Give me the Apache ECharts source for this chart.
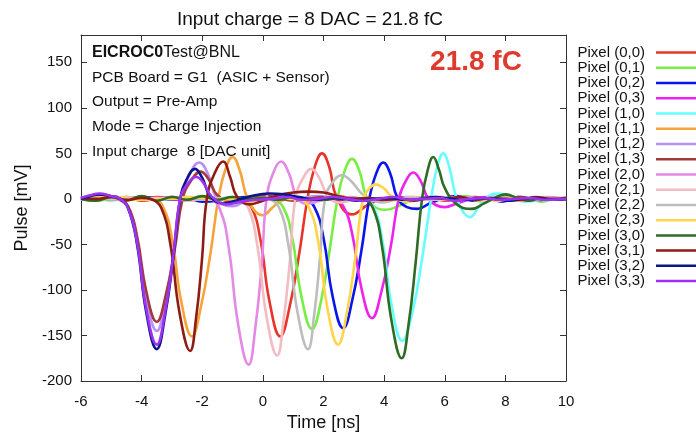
<!DOCTYPE html>
<html>
<head>
<meta charset="utf-8">
<script src="https://cdn.jsdelivr.net/npm/echarts@6/dist/echarts.min.js"></script>
<style>
html,body{margin:0;padding:0;background:#fff;}
#chart{width:696px;height:437px;}
</style>
</head>
<body>
<div id="chart"></div>
<script>
// Pixel names (legend order)
const pixelNames = ['Pixel (0,0)','Pixel (0,1)','Pixel (0,2)','Pixel (0,3)','Pixel (1,0)','Pixel (1,1)','Pixel (1,2)','Pixel (1,3)','Pixel (2,0)','Pixel (2,1)','Pixel (2,2)','Pixel (2,3)','Pixel (3,0)','Pixel (3,1)','Pixel (3,2)','Pixel (3,3)'];
const pixelColors = ['#E8352B','#77EE44','#0A14EE','#EE22EE','#66FFFF','#F8A33A','#B890F8','#A33A3A','#E38AE8','#F4BBC2','#BDBDBD','#FFD54A','#2E6B23','#8E1C14','#0A148C','#9D33F2'];

// [time ns, pulse mV]
const p00 = [[-6,1],[-5.5,2],[-5,-1],[-4.5,1],[-4,-2],[-3.5,0],[-3,2],[-2.5,-1],[-2,1],[-1.5,-2],[-1.1,1],[-0.73,0],[-0.38,-9],[-0.08,-45],[0.22,-113],[0.57,-151],[0.885,-118],[1.2,-60],[1.47,0],[1.71,35],[1.95,50],[2.19,35],[2.43,2],[2.94,-17],[3.44,-7],[3.94,0],[4.5,2],[5,-1],[5.5,1],[6,-2],[6.5,1],[7,2],[7.5,-1],[8,0],[8.5,2],[9,-1],[9.5,1],[10,0]];
const p01 = [[-6,0],[-5.5,-2],[-5,1],[-4.5,2],[-4,0],[-3.5,-1],[-3,1],[-2.5,2],[-2,0],[-1.5,-1],[-1,1],[-0.5,0],[0,1],[0.32,0],[0.67,-9],[0.97,-43],[1.27,-107],[1.62,-143],[1.92,-112],[2.2,-57],[2.46,0],[2.7,31],[2.94,44],[3.18,31],[3.42,2],[3.75,-10],[4.03,-12],[4.4,-9],[4.8,-3],[5.2,0],[5.7,2],[6.2,-1],[6.7,3],[7.2,-3],[7.7,1],[8.2,-2],[8.7,1],[9.2,-3],[9.6,0],[10,1]];
const p02 = [[-6,0],[-5.5,1],[-5,-1],[-4.5,0],[-4,2],[-3.5,1],[-3,-1],[-2.5,0],[-2,-3],[-1.5,-2],[-1,1],[-0.5,2],[0,1],[0.5,-1],[1,0],[1.35,0],[1.7,-9],[2.0,-43],[2.3,-107],[2.65,-142],[2.95,-111],[3.25,-57],[3.51,0],[3.74,28],[3.97,40],[4.2,28],[4.43,2],[4.75,-9],[5.1,-11],[5.5,-5],[5.9,0],[6.4,3],[6.9,-2],[7.4,1],[7.9,-3],[8.4,2],[8.9,-1],[9.4,1],[10,0]];
const p03 = [[-6,0],[-5.5,-1],[-5,1],[-4.5,0],[-4,-1],[-3.5,2],[-3,0],[-2.5,-2],[-2,1],[-1.5,0],[-1,-1],[-0.5,1],[0,0],[0.5,2],[1,0],[1.5,-1],[2,1],[2.3,0],[2.65,-8],[2.95,-39],[3.25,-98],[3.6,-131],[3.91,-102],[4.22,-52],[4.48,0],[4.72,20],[4.96,29],[5.2,20],[5.44,1],[5.72,-7],[6.0,-9],[6.4,-5],[6.9,0],[7.4,2],[7.9,-1],[8.4,1],[8.9,-2],[9.4,0],[10,1]];
const p10 = [[-6,-1],[-5.5,0],[-5,-2],[-4.5,1],[-4,0],[-3.5,-1],[-3,1],[-2.5,0],[-2,-1],[-1.5,1],[-1,0],[-0.5,-2],[0,0],[0.5,1],[1,-1],[1.5,0],[2,2],[2.5,0],[3,-1],[3.3,0],[3.65,-9],[3.95,-47],[4.25,-117],[4.6,-156],[4.93,-125],[5.27,-62],[5.55,0],[5.75,35],[5.95,50],[6.15,35],[6.35,5],[6.6,-14],[6.84,-20],[7.1,-10],[7.45,3],[7.8,6],[8.2,2],[8.6,-3],[9.0,-2],[9.4,1],[10,0]];
const p11 = [[-6,0],[-5.5,1],[-5,-1],[-4.5,2],[-4,0],[-3.64,0],[-3.29,-9],[-2.99,-45],[-2.69,-113],[-2.34,-151],[-2.04,-118],[-1.73,-60],[-1.47,0],[-1.24,32],[-1.0,46],[-0.77,32],[-0.53,2],[-0.25,-14],[0.0,-18],[0.3,-10],[0.6,-2],[1.0,1],[1.5,-2],[2,1],[2.5,3],[3,0],[3.5,-2],[4,1],[4.5,0],[5,2],[5.5,-1],[6,0],[6.5,2],[7,-1],[7.5,1],[8,0],[8.5,-2],[9,1],[9.5,0],[10,1]];
const p12 = [[-6,1],[-5.5,4],[-5,2],[-4.8,0],[-4.45,-9],[-4.15,-44],[-3.85,-109],[-3.5,-145],[-3.22,-113],[-2.94,-58],[-2.7,0],[-2.4,28],[-2.1,40],[-1.82,28],[-1.55,2],[-1.25,-7],[-1.0,-8],[-0.6,-3],[-0.2,0],[0.3,2],[0.8,-1],[1.3,1],[1.8,3],[2.3,0],[2.8,-2],[3.3,1],[3.8,0],[4.3,-1],[4.8,2],[5.3,1],[5.8,-1],[6.3,0],[6.8,2],[7.3,-1],[7.8,1],[8.3,0],[8.8,-2],[9.3,1],[10,0]];
const p13 = [[-6,0],[-5.5,3],[-5,1],[-4.8,0],[-4.45,-8],[-4.15,-41],[-3.85,-101],[-3.5,-135],[-3.2,-105],[-2.9,-54],[-2.65,0],[-2.35,21],[-2.05,30],[-1.78,21],[-1.5,4],[-1.0,-3],[-0.5,2],[0,4],[0.5,1],[1,-2],[1.5,0],[2,2],[2.5,-1],[3,1],[3.5,0],[4,-2],[4.5,1],[5,0],[5.5,2],[6,-1],[6.5,0],[7,1],[7.5,-1],[8,0],[8.5,2],[9,-1],[9.5,0],[10,1]];
const p20 = [[-6,0],[-5.5,2],[-5,0],[-4.5,-1],[-4,1],[-3.5,0],[-3,2],[-2.5,1],[-2,-1],[-1.77,0],[-1.42,-11],[-1.12,-55],[-0.82,-137],[-0.47,-182],[-0.25,-142],[-0.04,-73],[0.12,0],[0.36,30],[0.6,41],[0.86,28],[1.15,0],[1.5,-5],[1.9,-2],[2.4,0],[2.9,2],[3.4,-1],[3.9,1],[4.4,0],[4.9,-2],[5.4,1],[5.9,0],[6.4,2],[6.9,-1],[7.4,0],[7.9,1],[8.4,-1],[8.9,0],[9.4,2],[10,0]];
const p21 = [[-6,-1],[-5.5,1],[-5,0],[-4.5,2],[-4,-1],[-3.5,0],[-3,1],[-2.5,-2],[-2,0],[-1.5,1],[-1.1,0],[-0.83,0],[-0.48,-10],[-0.18,-52],[0.12,-129],[0.47,-172],[0.68,-134],[0.89,-69],[1.07,0],[1.33,23],[1.6,33],[1.86,23],[2.13,4],[2.5,-4],[2.9,-2],[3.4,0],[3.9,1],[4.4,-1],[4.9,2],[5.4,0],[5.9,-1],[6.4,1],[6.9,0],[7.4,-2],[7.9,1],[8.4,0],[8.9,1],[9.4,-1],[10,0]];
const p22 = [[-6,0],[-5.5,-1],[-5,1],[-4.5,0],[-4,2],[-3.5,-1],[-3,0],[-2.5,1],[-2,-1],[-1.5,0],[-1,2],[-0.5,0],[-0.1,1],[0.19,0],[0.54,-10],[0.84,-50],[1.14,-124],[1.49,-165],[1.69,-128],[1.88,-66],[2.05,0],[2.32,19],[2.6,26],[2.9,20],[3.2,8],[3.5,0],[3.9,-4],[4.4,-1],[4.9,1],[5.4,-1],[5.9,2],[6.4,0],[6.9,-1],[7.4,1],[7.9,3],[8.4,0],[8.9,-1],[9.4,1],[10,0]];
const p23 = [[-6,0],[-5.5,1],[-5,3],[-4.5,0],[-4,-1],[-3.5,1],[-3,0],[-2.5,2],[-2,1],[-1.5,-1],[-1,0],[-0.5,-3],[0,-1],[0.5,1],[0.9,0],[1.18,0],[1.53,-10],[1.83,-48],[2.13,-120],[2.48,-160],[2.77,-125],[3.05,-64],[3.3,0],[3.5,11],[3.72,16],[3.98,12],[4.25,3],[4.8,-3],[5.3,0],[5.8,2],[6.3,-1],[6.8,1],[7.3,0],[7.8,-2],[8.3,1],[8.8,0],[9.3,-1],[10,1]];
const p30 = [[-6,0],[-5.5,-2],[-5,2],[-4.5,-2],[-4,3],[-3.5,-2],[-3,2],[-2.5,-1],[-2,3],[-1.5,-1],[-1,2],[-0.5,0],[0,1],[0.5,-1],[1,2],[1.5,0],[2,-1],[2.5,1],[3,0],[3.28,0],[3.63,-10],[3.93,-52],[4.23,-131],[4.58,-175],[4.81,-137],[5.04,-70],[5.25,0],[5.44,32],[5.62,46],[5.81,32],[6.0,12],[6.4,-6],[6.88,-11],[7.3,-5],[7.7,2],[8,5],[8.4,1],[8.8,-2],[9.2,1],[9.6,-1],[10,0]];
const p31 = [[-6,1],[-5.5,0],[-5,2],[-4.5,-1],[-4,1],[-3.7,0],[-3.35,-10],[-3.05,-50],[-2.75,-125],[-2.4,-167],[-2.2,-130],[-2.01,-67],[-1.85,0],[-1.58,29],[-1.31,41],[-1.08,24],[-0.86,3],[-0.45,-6],[0,-2],[0.5,4],[1.0,7],[1.5,8],[2.0,7],[2.5,3],[3.0,0],[3.5,1],[4.0,-1],[4.5,0],[5.0,-2],[5.5,1],[6.0,0],[6.5,2],[7.0,-1],[7.5,1],[8.0,0],[8.5,-1],[9.0,2],[9.5,0],[10,1]];
const p32 = [[-6,0],[-5.7,3],[-5.4,5],[-5.0,3],[-4.75,1],[-4.45,-10],[-4.15,-50],[-3.85,-124],[-3.5,-165],[-3.23,-129],[-2.96,-66],[-2.73,0],[-2.49,23],[-2.24,33],[-2.0,23],[-1.75,4],[-1.35,-5],[-0.9,-2],[-0.4,3],[0.2,6],[0.7,5],[1.2,2],[1.7,-1],[2.2,1],[2.7,0],[3.2,-2],[3.7,0],[4.2,1],[4.7,-1],[5.2,0],[5.7,2],[6.2,0],[6.7,-1],[7.2,1],[7.7,0],[8.2,-2],[8.7,1],[9.2,0],[9.6,-1],[10,0]];
const p33 = [[-6,1],[-5.7,4],[-5.4,6],[-5.0,3],[-4.75,1],[-4.45,-10],[-4.15,-48],[-3.85,-120],[-3.5,-160],[-3.23,-125],[-2.96,-64],[-2.73,0],[-2.47,17],[-2.2,24],[-1.95,17],[-1.7,3],[-1.2,-6],[-0.7,-3],[-0.2,-1],[0.3,0],[0.8,2],[1.3,-1],[1.8,0],[2.3,2],[2.8,0],[3.3,-2],[3.8,0],[4.3,2],[4.8,-1],[5.3,0],[5.8,1],[6.3,-2],[6.8,0],[7.3,1],[7.8,-1],[8.3,0],[8.8,1],[9.3,-1],[10,0]];

const pixelData = [p00,p01,p02,p03,p10,p11,p12,p13,p20,p21,p22,p23,p30,p31,p32,p33];

const titleText = 'Input charge = 8 DAC = 21.8 fC';
const infoLines = ['PCB Board = G1  (ASIC + Sensor)','Output = Pre-Amp','Mode = Charge Injection','Input charge  8 [DAC unit]'];

const FONT = '"Liberation Sans", Arial, Helvetica, sans-serif';
const chart = echarts.init(document.getElementById('chart'), null, {renderer:'canvas'});

const axisLineStyle = {color:'#333', width:1};
const series = pixelNames.map((n,i)=>({
  name:n, type:'line', data:pixelData[i], symbol:'none', showSymbol:false,
  smooth:0.45, color:pixelColors[i], lineStyle:{width:2.6, color:pixelColors[i]},
  xAxisIndex:0, yAxisIndex:0, z:2+i
}));

const graphics = [
  {type:'text', x:310, y:20, style:{text:titleText, font:'19px '+FONT, fill:'#111', align:'center', verticalAlign:'middle'}},
  {type:'text', x:92, y:53, style:{text:'{b|EICROC0}{n|Test@BNL}', rich:{b:{font:'bold 16px '+FONT, fill:'#111'}, n:{font:'16px '+FONT, fill:'#111'}}, verticalAlign:'middle', align:'left'}, z:100},
  {type:'text', x:476, y:62, style:{text:'21.8 fC', font:'bold 28px '+FONT, fill:'#E03A2E', align:'center', verticalAlign:'middle'}, z:100}
];
const lineY = [78,102,127,152];
infoLines.forEach((t,i)=>graphics.push({type:'text', x:92, y:lineY[i], style:{text:t, font:'15.5px '+FONT, fill:'#111', align:'left', verticalAlign:'middle'}, z:100}));

chart.setOption({
  animation:false,
  backgroundColor:'#fff',
  grid:{left:81, right:130, top:35, bottom:52, containLabel:false},
  legend:{
    data:pixelNames, orient:'vertical', left:570, top:40, align:'right',
    itemWidth:44, itemHeight:14, itemGap:0.24,
    textStyle:{fontFamily:FONT, fontSize:15, color:'#111', lineHeight:15, width:70, padding:[0,6,0,0]},
    icon:'path://M0,0L44,0L44,2.5L0,2.5Z'
  },
  xAxis:[
    {type:'value', min:-6, max:10, interval:2, position:'bottom',
     name:'Time [ns]', nameLocation:'middle', nameGap:33,
     nameTextStyle:{fontFamily:FONT, fontSize:18, color:'#111'},
     axisLine:{show:true, onZero:false, lineStyle:axisLineStyle},
     axisTick:{show:true, inside:true, length:6, lineStyle:axisLineStyle},
     axisLabel:{fontFamily:FONT, fontSize:15, color:'#111', margin:13},
     splitLine:{show:false}},
    {type:'value', min:-6, max:10, interval:2, position:'top',
     axisLine:{show:true, onZero:false, lineStyle:axisLineStyle},
     axisTick:{show:true, inside:true, length:6, lineStyle:axisLineStyle},
     axisLabel:{show:false}, splitLine:{show:false}}
  ],
  yAxis:[
    {type:'value', min:-200, max:180, interval:50, position:'left',
     name:'Pulse [mV]', nameLocation:'middle', nameGap:44, nameRotate:90,
     nameTextStyle:{fontFamily:FONT, fontSize:18, color:'#111'},
     axisLine:{show:true, onZero:false, lineStyle:axisLineStyle},
     axisTick:{show:true, inside:true, length:6, lineStyle:axisLineStyle},
     axisLabel:{fontFamily:FONT, fontSize:15, color:'#111', margin:9, showMaxLabel:false,
       formatter:v=> (v%50===0? String(v):'')},
     splitLine:{show:false}},
    {type:'value', min:-200, max:180, interval:50, position:'right',
     axisLine:{show:true, onZero:false, lineStyle:axisLineStyle},
     axisTick:{show:true, inside:true, length:6, lineStyle:axisLineStyle},
     axisLabel:{show:false}, splitLine:{show:false}}
  ],
  graphic:graphics,
  series:series
});
</script>
</body>
</html>
